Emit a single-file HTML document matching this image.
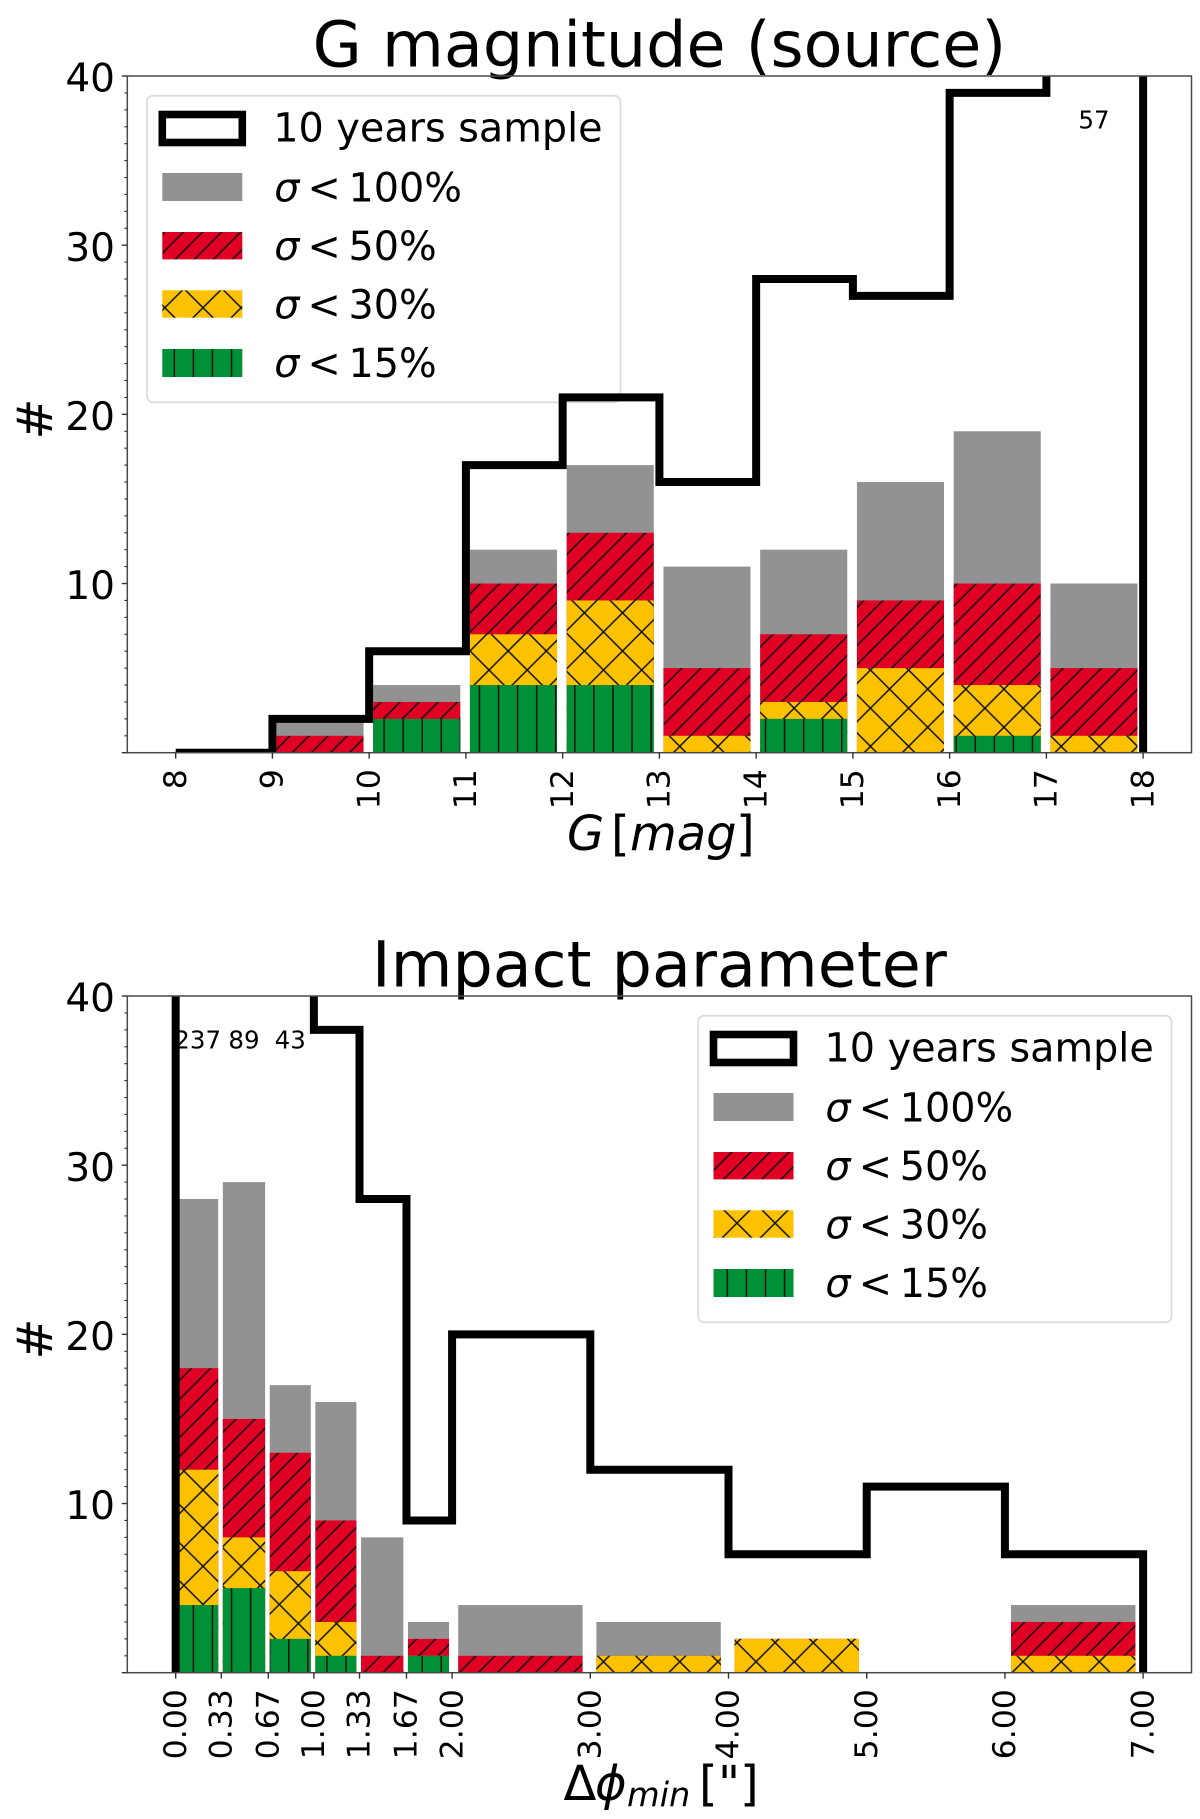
<!DOCTYPE html>
<html lang="en">
<head>
<meta charset="utf-8">
<title>G magnitude and impact parameter histograms</title>
<style>
  html, body { margin: 0; padding: 0; background: #fff; }
  svg { display: block; }
  text { font-family: "DejaVu Sans", "Liberation Sans", sans-serif; fill: #000; }
  .legend-text { font-size: 39.7px; }
  .title { font-size: 63.5px; text-anchor: middle; }
  .xlabel { font-size: 48px; }
  .it { font-style: oblique; }
</style>
</head>
<body>
<svg id="figure" xmlns="http://www.w3.org/2000/svg" width="1200" height="1819" viewBox="0 0 1200 1819">
  <defs>
    <pattern id="hatch-red" patternUnits="userSpaceOnUse" x="0" y="0" width="19.07" height="19.07">
      <rect width="19.07" height="19.07" fill="#e00024"/>
      <path d="M-5 20.1L20.1 -5M24.07 10.1L10.1 24.07" stroke="#111" stroke-width="1.5" fill="none"/>
    </pattern>
    <pattern id="hatch-yellow" patternUnits="userSpaceOnUse" x="0" y="0" width="38.14" height="38.14">
      <rect width="38.14" height="38.14" fill="#fcc200"/>
      <path d="M-5 19.9L19.9 -5M43.14 9.9L9.9 43.14M4.72 -5L43.14 33.42M-5 23.42L14.72 43.14" stroke="#111" stroke-width="1.5" fill="none"/>
    </pattern>
    <pattern id="hatch-green" patternUnits="userSpaceOnUse" x="0" y="0" width="19.07" height="19.07">
      <rect width="19.07" height="19.07" fill="#009036"/>
      <path d="M2.7 -1V21" stroke="#111" stroke-width="1.5" fill="none"/>
    </pattern>
    <clipPath id="clip-top"><rect x="127.3" y="76" width="1064.2" height="676.7"/></clipPath>
    <clipPath id="clip-bottom"><rect x="127.3" y="996" width="1064.2" height="676.7"/></clipPath>
  </defs>

  <rect x="0" y="0" width="1200" height="1819" fill="#fff"/>

  <text class="title" x="659.4" y="66.7">G magnitude (source)</text>
  <text class="title" x="659.4" y="986.5">Impact parameter</text>

  <text font-size="49" text-anchor="middle" transform="translate(52 419) rotate(-90)">#</text>
  <text font-size="49" text-anchor="middle" transform="translate(52 1339) rotate(-90)">#</text>

  <text class="xlabel" y="850"><tspan class="it" x="567">G</tspan><tspan x="611">[</tspan><tspan class="it" x="630">mag</tspan><tspan x="736">]</tspan></text>
  <text class="xlabel" y="1800"><tspan x="563.5">Δ</tspan><tspan class="it" x="595">ϕ</tspan><tspan class="it" font-size="33.6" x="627" dy="6.7">min</tspan><tspan x="699" dy="-6.7">[</tspan><tspan x="718">"</tspan><tspan x="740">]</tspan></text>

  <g id="top-legend">
    <rect x="147" y="95.7" width="473.4" height="306.6" rx="6" fill="#fff" stroke="#dcdcdc" stroke-width="1.8"/>
    <rect x="162.3" y="114.5" width="80" height="28" fill="#fff" stroke="#000" stroke-width="7.6"/>
    <rect x="162.3" y="173" width="80" height="28" fill="#929292"/>
    <rect x="162.3" y="232" width="80" height="27.4" fill="url(#hatch-red)"/>
    <rect x="162.3" y="290.3" width="80" height="27.4" fill="url(#hatch-yellow)"/>
    <rect x="162.3" y="349" width="80" height="28" fill="url(#hatch-green)"/>
    <text class="legend-text" x="273.3" y="141.7">10 years sample</text>
    <text class="legend-text" y="201.4"><tspan class="it" x="274.2">σ</tspan><tspan x="307.5">&lt;</tspan><tspan x="348.5">100%</tspan></text>
    <text class="legend-text" y="259.9"><tspan class="it" x="274.2">σ</tspan><tspan x="307.5">&lt;</tspan><tspan x="348.5">50%</tspan></text>
    <text class="legend-text" y="318.4"><tspan class="it" x="274.2">σ</tspan><tspan x="307.5">&lt;</tspan><tspan x="348.5">30%</tspan></text>
    <text class="legend-text" y="376.9"><tspan class="it" x="274.2">σ</tspan><tspan x="307.5">&lt;</tspan><tspan x="348.5">15%</tspan></text>
  </g>

  <g id="bottom-legend">
    <rect x="698.2" y="1015.7" width="473.4" height="306.6" rx="6" fill="#fff" stroke="#dcdcdc" stroke-width="1.8"/>
    <rect x="713.5" y="1034.5" width="80" height="28" fill="#fff" stroke="#000" stroke-width="7.6"/>
    <rect x="713.5" y="1093" width="80" height="28" fill="#929292"/>
    <rect x="713.5" y="1152" width="80" height="27.4" fill="url(#hatch-red)"/>
    <rect x="713.5" y="1210.3" width="80" height="27.4" fill="url(#hatch-yellow)"/>
    <rect x="713.5" y="1269" width="80" height="28" fill="url(#hatch-green)"/>
    <text class="legend-text" x="824.5" y="1061.7">10 years sample</text>
    <text class="legend-text" y="1121.4"><tspan class="it" x="825.4">σ</tspan><tspan x="858.7">&lt;</tspan><tspan x="899.7">100%</tspan></text>
    <text class="legend-text" y="1179.9"><tspan class="it" x="825.4">σ</tspan><tspan x="858.7">&lt;</tspan><tspan x="899.7">50%</tspan></text>
    <text class="legend-text" y="1238.4"><tspan class="it" x="825.4">σ</tspan><tspan x="858.7">&lt;</tspan><tspan x="899.7">30%</tspan></text>
    <text class="legend-text" y="1296.9"><tspan class="it" x="825.4">σ</tspan><tspan x="858.7">&lt;</tspan><tspan x="899.7">15%</tspan></text>
  </g>

  <g id="marks"></g>
</svg>

<script>
// ---- shared axis data ----
const yMajorTicks = [10, 20, 30, 40];
const yMax = 40;

// ---- top chart: G magnitude ----
const magEdges = [8, 9, 10, 11, 12, 13, 14, 15, 16, 17, 18];
const magTickLabels = ['8', '9', '10', '11', '12', '13', '14', '15', '16', '17', '18'];
const magSample = [0, 2, 6, 17, 21, 16, 28, 27, 39, 57];
const magSigma100 = [0, 2, 4, 12, 17, 11, 12, 16, 19, 10];
const magSigma50 = [0, 1, 3, 10, 13, 5, 7, 9, 10, 5];
const magSigma30 = [0, 0, 0, 7, 9, 1, 3, 5, 4, 1];
const magSigma15 = [0, 0, 2, 4, 4, 0, 2, 0, 1, 0];

// ---- bottom chart: impact parameter ----
const impactEdges = [0, 0.33, 0.67, 1, 1.33, 1.67, 2, 3, 4, 5, 6, 7];
const impactTickLabels = ['0.00', '0.33', '0.67', '1.00', '1.33', '1.67', '2.00', '3.00', '4.00', '5.00', '6.00', '7.00'];
const impactSample = [237, 89, 43, 38, 28, 9, 20, 12, 7, 11, 7];
const impactSigma100 = [28, 29, 17, 16, 8, 3, 4, 3, 2, 0, 4];
const impactSigma50 = [18, 15, 13, 9, 1, 2, 1, 1, 2, 0, 3];
const impactSigma30 = [12, 8, 6, 3, 0, 1, 0, 1, 2, 0, 1];
const impactSigma15 = [4, 5, 2, 1, 0, 1, 0, 0, 0, 0, 0];

const SVG_NS = 'http://www.w3.org/2000/svg';
const marks = document.getElementById('marks');
const axLeft = 127.3;
const axRight = 1191.5;
const axHeight = 676.7;
const rwidth = 0.9;
const barShift = -0.8;

function make(tag, props) {
  const el = document.createElementNS(SVG_NS, tag);
  for (const key in props) el.setAttribute(key, props[key]);
  return el;
}

function drawPanel(cfg) {
  const axTop = cfg.top;
  const axBottom = axTop + axHeight;
  const edges = cfg.edges;
  const dMin = edges[0];
  const dMax = edges[edges.length - 1];
  const margin = (dMax - dMin) * 0.05;
  const xScale = v => axLeft + (v - (dMin - margin)) / ((dMax - dMin) + 2 * margin) * (axRight - axLeft);
  const yScale = v => axBottom - v / yMax * axHeight;

  const group = make('g', {});
  
  

  // overlaid bars, drawn back to front
  cfg.series.forEach(series => {
    series.values.forEach((value, i) => {
      if (value <= 0) return;
      const x0 = xScale(edges[i]);
      const x1 = xScale(edges[i + 1]);
      const inset = (x1 - x0) * (1 - rwidth) / 2;
      const bar = make('rect', {
        x: x0 + inset + barShift,
        y: yScale(value),
        width: (x1 - x0) - 2 * inset,
        height: axBottom - yScale(value),
        fill: series.fill
      });
      
      
      group.appendChild(bar);
    });
  });
  marks.appendChild(group);

  // black step outline of the full sample
  let d = 'M' + xScale(edges[0]) + ' ' + yScale(0);
  cfg.sample.forEach((count, i) => {
    d += 'L' + xScale(edges[i]) + ' ' + yScale(count);
    d += 'L' + xScale(edges[i + 1]) + ' ' + yScale(count);
  });
  d += 'L' + xScale(dMax) + ' ' + yScale(0);
  const stepLine = make('path', {
    d: d,
    fill: 'none',
    stroke: '#000',
    'stroke-width': 8,
    'stroke-linejoin': 'miter',
    'clip-path': 'url(#' + cfg.clip + ')'
  });
  
  
  marks.appendChild(stepLine);

  // printed counts for bins that run off the top of the axis
  cfg.sample.forEach((count, i) => {
    if (count <= yMax) return;
    const label = make('text', {
      x: (xScale(edges[i]) + xScale(edges[i + 1])) / 2 - 0.8,
      y: yScale(yMax) + 52.3,
      'font-size': 24.5,
      'text-anchor': 'middle'
    });
    label.textContent = String(count);
    
    
    marks.appendChild(label);
  });

  // spines
  const spines = make('rect', {
    x: axLeft,
    y: axTop,
    width: axRight - axLeft,
    height: axHeight,
    fill: 'none',
    stroke: '#4a4a4a',
    'stroke-width': 1.5
  });
  
  
  marks.appendChild(spines);

  // y ticks: minor every unit, major with labels
  for (let v = 0; v <= yMax; v++) {
    const isMajor = v === 0 || v % 10 === 0;
    const tick = make('line', {
      x1: axLeft - (isMajor ? 5.5 : 3),
      x2: axLeft,
      y1: yScale(v),
      y2: yScale(v),
      stroke: '#333',
      'stroke-width': isMajor ? 1.4 : 1.1
    });
    
    
    marks.appendChild(tick);
  }
  yMajorTicks.forEach(v => {
    const label = make('text', {
      x: 115,
      y: yScale(v) + 15.7,
      'font-size': 39,
      'text-anchor': 'end'
    });
    label.textContent = String(v);
    
    
    marks.appendChild(label);
  });

  // x ticks with rotated labels
  edges.forEach((edge, i) => {
    const x = xScale(edge);
    const tick = make('line', {
      x1: x,
      x2: x,
      y1: axBottom,
      y2: axBottom + 6,
      stroke: '#333',
      'stroke-width': 1.4
    });
    
    
    marks.appendChild(tick);

    const label = make('text', {
      'font-size': 31.5,
      'text-anchor': 'end',
      transform: 'translate(' + (x + 10.2) + ' ' + (axBottom + 16.5) + ') rotate(-90)'
    });
    label.textContent = cfg.tickLabels[i];
    
    
    marks.appendChild(label);
  });
}

drawPanel({
  name: 'top-chart',
  top: 76,
  clip: 'clip-top',
  edges: magEdges,
  tickLabels: magTickLabels,
  sample: magSample,
  series: [
    { key: 'sigma100', values: magSigma100, fill: '#929292' },
    { key: 'sigma50', values: magSigma50, fill: 'url(#hatch-red)' },
    { key: 'sigma30', values: magSigma30, fill: 'url(#hatch-yellow)' },
    { key: 'sigma15', values: magSigma15, fill: 'url(#hatch-green)' }
  ]
});

drawPanel({
  name: 'bottom-chart',
  top: 996,
  clip: 'clip-bottom',
  edges: impactEdges,
  tickLabels: impactTickLabels,
  sample: impactSample,
  series: [
    { key: 'sigma100', values: impactSigma100, fill: '#929292' },
    { key: 'sigma50', values: impactSigma50, fill: 'url(#hatch-red)' },
    { key: 'sigma30', values: impactSigma30, fill: 'url(#hatch-yellow)' },
    { key: 'sigma15', values: impactSigma15, fill: 'url(#hatch-green)' }
  ]
});
</script>
</body>
</html>
